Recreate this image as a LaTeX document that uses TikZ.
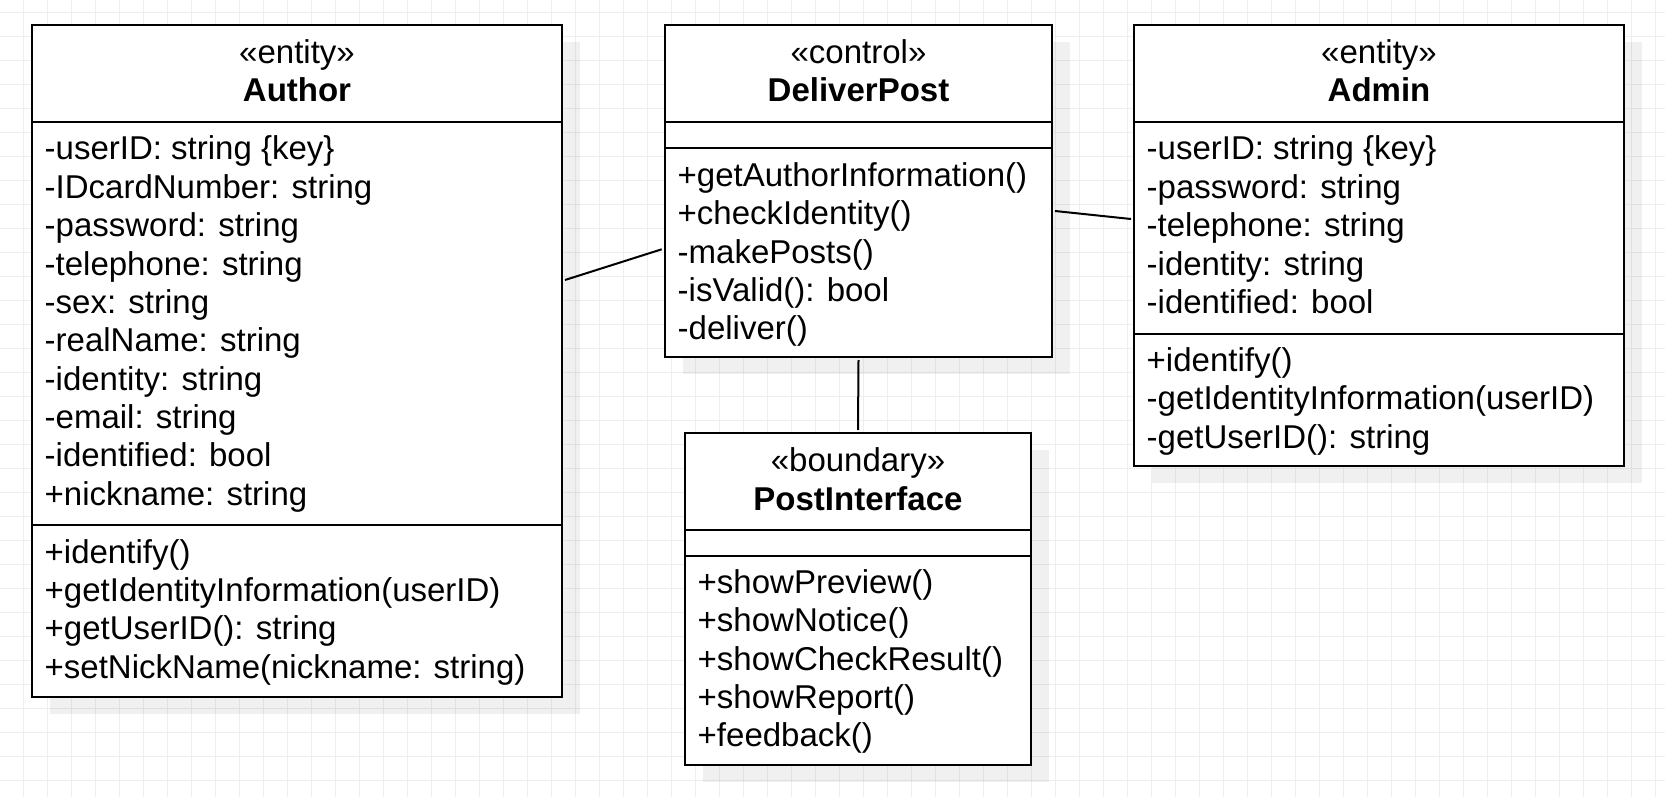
\documentclass[tikz,border=0pt]{standalone}
\usepackage{fontspec}
\setmainfont{Liberation Sans}
\usetikzlibrary{backgrounds}
\definecolor{gridc}{RGB}{238,238,238}
\begin{document}
\begin{tikzpicture}[x=1pt,y=-1pt,
  classbox/.style={draw=black, line width=2pt, fill=white, rectangle, outer sep=0pt, inner sep=0pt, anchor=north west},
  shadowbox/.style={fill=black, fill opacity=0.06},
  septline/.style={draw=black, line width=2pt},
  txt/.style={anchor=base west, inner sep=0pt, font=\fontsize{33}{38}\selectfont},
  stereo/.style={anchor=base, inner sep=0pt, font=\fontsize{33}{38}\selectfont},
  cname/.style={anchor=base, inner sep=0pt, font=\fontsize{33}{38}\selectfont\bfseries},
  link/.style={draw=black, line width=2pt},
  gridline/.style={draw=gridc, line width=1.2pt}
]
\useasboundingbox (0,0) rectangle (1665,797);

% class boxes
\node[classbox, minimum width=530pt, minimum height=672pt] (author) at (32,25) {};
\node[classbox, minimum width=387pt, minimum height=332pt] (deliver) at (665,25) {};
\node[classbox, minimum width=490pt, minimum height=441pt] (admin) at (1134,25) {};
\node[classbox, minimum width=346pt, minimum height=332pt] (post) at (685,433) {};

% compartments
\draw[septline] ([shift={(0,97)}]author.north west) -- ([shift={(0,97)}]author.north east);
\draw[septline] ([shift={(0,500)}]author.north west) -- ([shift={(0,500)}]author.north east);
\draw[septline] ([shift={(0,97)}]deliver.north west) -- ([shift={(0,97)}]deliver.north east);
\draw[septline] ([shift={(0,123)}]deliver.north west) -- ([shift={(0,123)}]deliver.north east);
\draw[septline] ([shift={(0,97)}]admin.north west) -- ([shift={(0,97)}]admin.north east);
\draw[septline] ([shift={(0,308.5)}]admin.north west) -- ([shift={(0,308.5)}]admin.north east);
\draw[septline] ([shift={(0,97)}]post.north west) -- ([shift={(0,97)}]post.north east);
\draw[septline] ([shift={(0,122.5)}]post.north west) -- ([shift={(0,122.5)}]post.north east);

% headers
\node[stereo] (authorst) at (297,63.5) {«entity»};
\node[cname] (authornm) at (297,101.5) {Author};
\node[stereo] (deliverst) at (858.5,63.5) {«control»};
\node[cname] (delivernm) at (858.5,101.5) {DeliverPost};
\node[stereo] (adminst) at (1379,63.5) {«entity»};
\node[cname] (adminnm) at (1379,101.5) {Admin};
\node[stereo] (postst) at (858,471.5) {«boundary»};
\node[cname] (postnm) at (858,510) {PostInterface};

% Author
\foreach \t [count=\i from 0] in {{-userID: string \{key\}},{-IDcardNumber: string},{-password: string},{-telephone: string},{-sex: string},{-realName: string},{-identity: string},{-email: string},{-identified: bool},{+nickname: string}}
  \node[txt] (authora\i) at (44.5,{160+38.35*\i}) {\t};
\foreach \t [count=\i from 0] in {{+identify()},{+getIdentityInformation(userID)},{+getUserID(): string},{+setNickName(nickname: string)}}
  \node[txt] (authorm\i) at (44.5,{563+38.35*\i}) {\t};

% DeliverPost
\foreach \t [count=\i from 0] in {{+getAuthorInformation()},{+checkIdentity()},{-makePosts()},{-isValid(): bool},{-deliver()}}
  \node[txt] (deliverm\i) at (677.5,{186.5+38.35*\i}) {\t};

% Admin
\foreach \t [count=\i from 0] in {{-userID: string \{key\}},{-password: string},{-telephone: string},{-identity: string},{-identified: bool}}
  \node[txt] (admina\i) at (1146.5,{160+38.35*\i}) {\t};
\foreach \t [count=\i from 0] in {{+identify()},{-getIdentityInformation(userID)},{-getUserID(): string}}
  \node[txt] (adminm\i) at (1146.5,{371.5+38.35*\i}) {\t};

% PostInterface
\foreach \t [count=\i from 0] in {{+showPreview()},{+showNotice()},{+showCheckResult()},{+showReport()},{+feedback()}}
  \node[txt] (postm\i) at (697.5,{593.5+38.35*\i}) {\t};

% connectors
\draw[link] ([shift={(3,255)}]author.north east) -- ([shift={(-3.3,224.3)}]deliver.north west);
\draw[link] ([shift={(3,186)}]deliver.north east) -- ([shift={(-3,194)}]admin.north west);
\draw[link] ([shift={(0,3)}]deliver.south) -- ([shift={(0,-3)}]post.north);

% background: grid and shadows
\begin{scope}[on background layer]
  \fill[white] (0,0) rectangle (1665,797);
  \foreach \i in {0,...,68} \draw[gridline] ({23.3+24*\i},0) -- ({23.3+24*\i},797);
  \foreach \j in {0,...,32} \draw[gridline] (0,{12.5+24*\j}) -- (1665,{12.5+24*\j});
  \foreach \b in {author,deliver,admin,post}
    \fill[shadowbox] ([shift={(18,17)}]\b.north west) rectangle ([shift={(18,17)}]\b.south east);
\end{scope}
\end{tikzpicture}
\end{document}
